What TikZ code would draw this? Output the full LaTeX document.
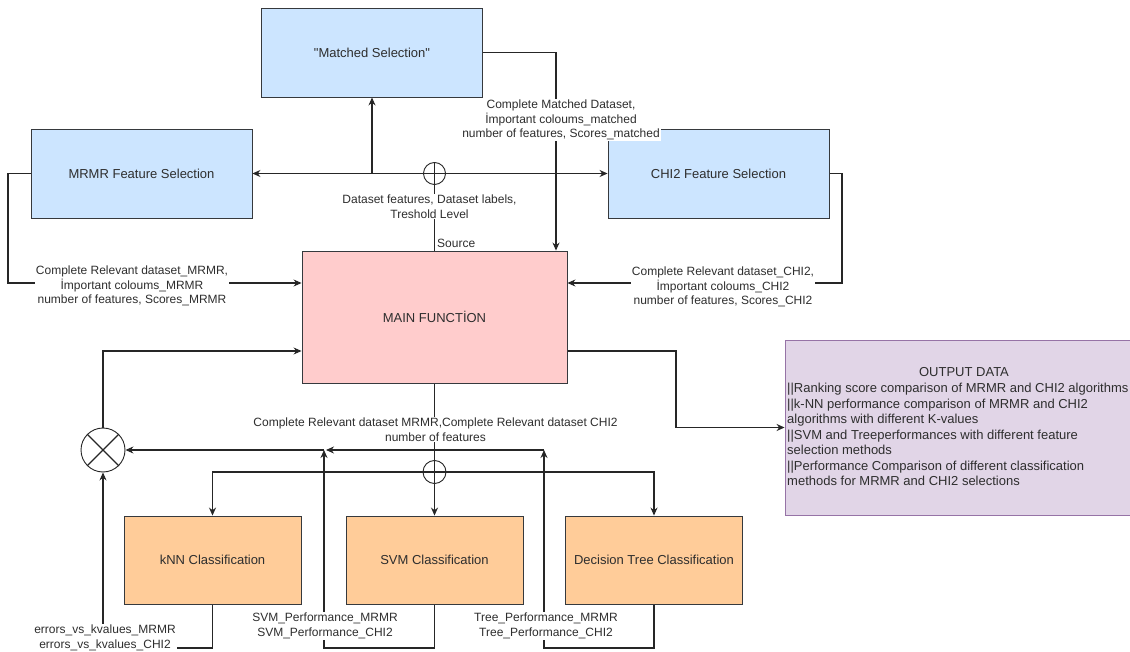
\documentclass[tikz,border=0pt]{standalone}
\usepackage{fontspec}
\setmainfont{Liberation Sans}
\newfontfamily\plainfont{Liberation Sans}
\usepackage{xcolor}
\usepackage{tikz}
\usetikzlibrary{arrows.meta}
\definecolor{boxline}{HTML}{36393D}
\definecolor{bluefill}{HTML}{CCE5FF}
\definecolor{pinkfill}{HTML}{FFCCCC}
\definecolor{orangefill}{HTML}{FFCC99}
\definecolor{purplefill}{HTML}{E1D5E7}
\definecolor{purpleline}{HTML}{9673A6}
\definecolor{textgray}{HTML}{2E2E2E}
\tikzstyle{box}=[draw=boxline, line width=0.9pt, shape=rectangle, text=textgray, font=\fontsize{13}{15.5}\selectfont]
\tikzstyle{blue box}=[box, fill=bluefill, minimum width=221pt, minimum height=89pt]
\tikzstyle{pink box}=[box, fill=pinkfill, minimum width=265pt, minimum height=132pt]
\tikzstyle{orange box}=[box, fill=orangefill, minimum width=177pt, minimum height=88pt]
\tikzstyle{purple box}=[box, fill=purplefill, draw=purpleline, minimum width=358pt, minimum height=175pt]
\tikzstyle{junction}=[fill=white, draw=black!85, line width=0.9pt, shape=circle, inner sep=0pt]
\tikzstyle{edge label}=[fill=white, inner sep=1pt, align=center, text=textgray, font=\fontsize{12}{14.5}\selectfont]
\tikzstyle{output text}=[inner sep=0pt, align=left, text=textgray, font=\fontsize{13}{15.5}\selectfont]
\tikzstyle{plain edge}=[-, draw=black!85, line width=1.1pt]
\tikzstyle{arrow edge}=[plain edge, -{Stealth[length=8pt,width=7pt]}]
\pgfdeclarelayer{nodelayer}
\pgfdeclarelayer{edgelayer}
\pgfsetlayers{main,edgelayer,nodelayer}
\begin{document}
\begin{tikzpicture}[x=10pt, y=-10pt]
	\useasboundingbox [fill=white] (0, 0) rectangle (113, 65.2);
	\begin{pgfonlayer}{nodelayer}
		\node [style=blue box] (0) at (37.2, 5.25) {{\plainfont"}Matched Selection{\plainfont"}};
		\node [style=blue box] (1) at (14.15, 17.35) {MRMR Feature Selection};
		\node [style=blue box] (2) at (71.85, 17.35) {CHI2 Feature Selection};
		\node [style=pink box] (3) at (43.45, 31.7) {MAIN FUNCTİON};
		\node [style=orange box] (4) at (21.25, 56) {kNN Classification};
		\node [style=orange box] (5) at (43.45, 56) {SVM Classification};
		\node [style=orange box] (6) at (65.4, 56) {Decision Tree Classification};
		\node [style=purple box] (7) at (96.4, 42.75) {};
		\node [style=junction, minimum size=22pt] (8) at (43.45, 17.35) {};
		\node [style=junction, minimum size=23pt] (9) at (43.45, 47.2) {};
		\node [style=junction, minimum size=44pt] (10) at (10.3, 45) {};
		\draw [style=plain edge] (8.north) -- (8.south);
		\draw [style=plain edge] (8.west) -- (8.east);
		\draw [style=plain edge] (9.north) -- (9.south);
		\draw [style=plain edge] (9.west) -- (9.east);
		\draw [style=plain edge] (10.north west) -- (10.south east);
		\draw [style=plain edge] (10.north east) -- (10.south west);
		\node [style=edge label] (22) at (56.1, 12) {Complete Matched Dataset,\\İmportant coloums\_matched\\number of features, Scores\_matched};
		\node [style=edge label] (23) at (42.95, 20.65) {Dataset features, Dataset labels,\\Treshold Level};
		\node [style=edge label, anchor=west] (24) at (43.6, 24.3) {Source};
		\node [style=edge label] (25) at (13.2, 28.6) {Complete Relevant dataset\_MRMR,\\İmportant coloums\_MRMR\\number of features, Scores\_MRMR};
		\node [style=edge label] (26) at (72.3, 28.7) {Complete Relevant dataset\_CHI2,\\İmportant coloums\_CHI2\\number of features, Scores\_CHI2};
		\node [style=edge label] (27) at (43.55, 42.95) {Complete Relevant dataset MRMR,Complete Relevant dataset CHI2\\number of features};
		\node [style=edge label] (28) at (10.5, 63.8) {errors\_vs\_kvalues\_MRMR\\errors\_vs\_kvalues\_CHI2};
		\node [style=edge label] (29) at (32.5, 62.6) {SVM\_Performance\_MRMR\\SVM\_Performance\_CHI2};
		\node [style=edge label] (30) at (54.6, 62.6) {Tree\_Performance\_MRMR\\Tree\_Performance\_CHI2};
		\node [style=output text] (31) at (96.4, 37.2) {OUTPUT DATA};
		\node [style=output text, anchor=west] (32) at (78.7, 43.45) {||Ranking score comparison of MRMR and CHI2 algorithms\\||k-NN performance comparison of MRMR and CHI2\\algorithms with different K-values\\||SVM and Treeperformances with different feature\\selection methods\\||Performance Comparison of different classification\\methods for MRMR and CHI2 selections};
	\end{pgfonlayer}
	\begin{pgfonlayer}{edgelayer}
		\coordinate (11) at (0 |- 8);
		\coordinate (12) at (55.6, 5.25);
		\coordinate (13) at (0.8, 28.3);
		\coordinate (14) at (84.2, 28.3);
		\coordinate (15) at (67.6, 35.1);
		\coordinate (16) at (54.4, 64.8);
		\coordinate (17) at (54.4, 45);
		\coordinate (18) at (32.6, 45);
		\coordinate (19) at (32.4, 64.8);
		\coordinate (20) at (32.4, 45);
		\coordinate (21) at (10.3, 64.8);
		\draw [style=arrow edge] (8) -- (1);
		\draw [style=arrow edge] (8) -- (2);
		\draw [style=arrow edge] (11) -- (0);
		\draw [style=plain edge] (8) -- (3);
		\draw [style=arrow edge] (0) -- (12) -- (12 |- 3.north);
		\draw [style=arrow edge] (1.west) -| (13) -- (13 -| 3.west);
		\draw [style=arrow edge] (2.east) -| (14) -- (14 -| 3.east);
		\draw [style=arrow edge] (3.east |- 15) -- (15) |- (7.west);
		\draw [style=arrow edge] (10.north) |- (15 -| 3.west);
		\draw [style=plain edge] (3) -- (9);
		\draw [style=arrow edge] (9) -- (5);
		\draw [style=arrow edge] (9.west) -| (4.north);
		\draw [style=arrow edge] (9.east) -| (6.north);
		\draw [style=arrow edge] (6.south) |- (16) -- (17);
		\draw [style=arrow edge] (17) -- (18);
		\draw [style=arrow edge] (5.south) |- (19) -- (20);
		\draw [style=arrow edge] (20) -- (10);
		\draw [style=arrow edge] (4.south) |- (21) -- (10);
	\end{pgfonlayer}
\end{tikzpicture}
\end{document}
